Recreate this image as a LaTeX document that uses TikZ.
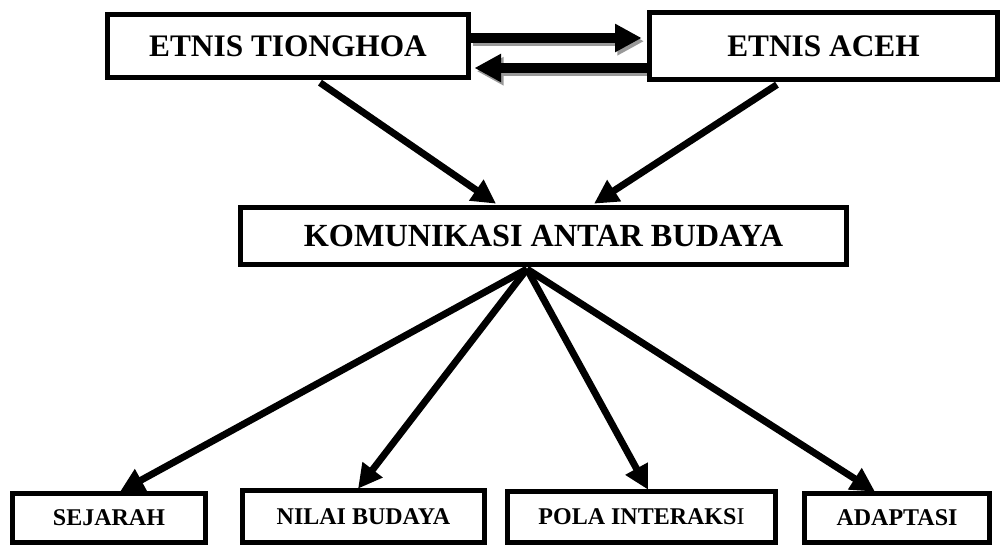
\documentclass[tikz,border=0pt]{standalone}
\usepackage{fontspec}
\setmainfont{Liberation Serif}
\usetikzlibrary{arrows.meta,backgrounds}
\begin{document}
\begin{tikzpicture}[x=0.75pt,y=-0.75pt,
  box/.style={draw,line width=3.75pt,inner sep=0pt,font=\fontsize{23.5}{27}\selectfont\bfseries},
  sbox/.style={box,font=\fontsize{18}{21}\selectfont\bfseries},
  harrow/.style={line width=7pt,-{Triangle[length=20pt,width=20pt]}},
  darrow/.style={line width=5.2pt,-{Triangle[length=18pt,width=18pt]}}
]
\useasboundingbox (0,0) rectangle (1001,547);
\node[box,minimum width=270.75pt,minimum height=47.25pt] (T) at (288,46) {ETNIS TIONGHOA};
\node[box,minimum width=261pt,minimum height=50.25pt] (A) at (823.5,46) {ETNIS ACEH};
\node[box,font=\fontsize{24.2}{28}\selectfont\bfseries,minimum width=454.5pt,minimum height=42.75pt] (K) at (543.5,236) {KOMUNIKASI ANTAR BUDAYA};
\node[sbox,minimum width=144.75pt,minimum height=36.75pt] (S) at (109,518) {SEJARAH};
\node[sbox,minimum width=181.5pt,minimum height=39pt] (N) at (363.5,516.5) {NILAI BUDAYA};
\node[sbox,minimum width=201pt,minimum height=38.25pt] (P) at (641.5,517) {POLA INTERAKS\textmd{I}};
\node[sbox,minimum width=138.75pt,minimum height=36.75pt] (D) at (897,518) {ADAPTASI};
\begin{scope}[on background layer]
% shadows of horizontal arrows
\begin{scope}[transform canvas={shift={(1.8pt,-2.4pt)}}]
\draw[harrow,black!40,shorten >=4pt] ([yshift=6pt]T.east) -- ([yshift=6pt]A.west);
\draw[harrow,black!40,shorten >=2.6pt] ([yshift=-16.5pt]A.west) -- ([yshift=-16.5pt]T.east);
\end{scope}
\draw[harrow,shorten >=4pt] ([yshift=6pt]T.east) -- ([yshift=6pt]A.west);
\draw[harrow,shorten >=2.6pt] ([yshift=-16.5pt]A.west) -- ([yshift=-16.5pt]T.east);
% diagonals to KOMUNIKASI
\draw[darrow] ([xshift=24pt,yshift=-2pt]T.south) -- ([xshift=-35.6pt,yshift=1pt]K.north);
\draw[darrow] ([xshift=-34.9pt,yshift=-2pt]A.south) -- ([xshift=37.9pt,yshift=1pt]K.north);
% from KOMUNIKASI to bottom boxes
\coordinate (O) at ([xshift=-12.4pt,yshift=-1.5pt]K.south);
\draw[darrow] (O) -- ([xshift=8.25pt,yshift=-0.5pt]S.north);
\draw[darrow] (O) -- ([xshift=-4.1pt,yshift=-0.5pt]N.north);
\draw[darrow] (O) -- ([xshift=4.9pt,yshift=-0.5pt]P.north);
\draw[darrow] (O) -- ([xshift=-16.5pt,yshift=-0.5pt]D.north);
\end{scope}
\end{tikzpicture}
\end{document}
